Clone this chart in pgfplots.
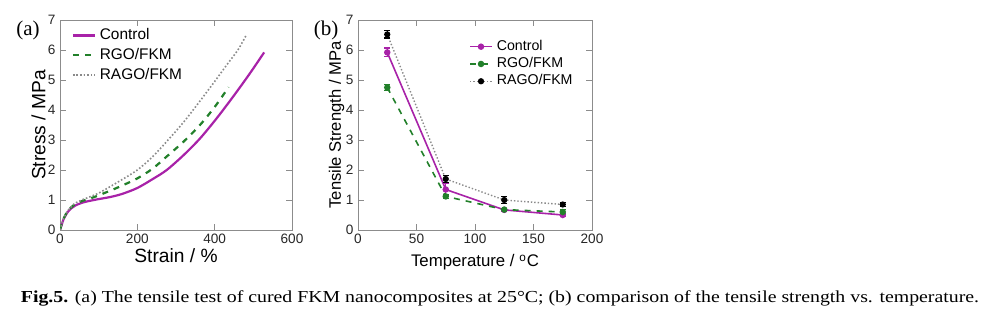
\documentclass[border=0pt]{standalone}
\usepackage{fontspec}
\setmainfont{Liberation Sans}
\newfontfamily\timesfont{Liberation Serif}
\usepackage{pgfplots}
\pgfplotsset{compat=1.18}
\definecolor{cCtrl}{HTML}{A822A8}
\definecolor{cRGO}{HTML}{22802A}
\definecolor{cRAGO}{HTML}{8A8A8A}
\definecolor{cAxis}{HTML}{8C8C8C}

\pgfplotsset{
  panel/.style={
    scale only axis,
    height=105pt,
    ymin=0, ymax=7,
    ytick={0,1,...,7},
    tick align=inside,
    axis line style={cAxis},
    tick style={cAxis},
    major tick length=3pt,
    ticklabel style={font=\fontsize{6.8}{8}\selectfont, text=black!85},
    xticklabel style={yshift=1.5pt},
    yticklabel style={xshift=1.2pt},
    /pgf/number format/assume math mode=true,
    legend cell align=left,
    legend style={draw=none, fill=none, inner sep=1pt},
    legend image code/.code={%
      \draw[mark repeat=2,mark phase=2] plot coordinates {(0pt,0pt)(5.5pt,0pt)(11pt,0pt)};},
  },
}

\begin{document}
\begin{tikzpicture}
\path (0,0) rectangle (497pt,160pt);

% panel (a)
\begin{axis}[panel,
  at={(30pt,45pt)}, anchor=south west,
  width=116pt,
  xmin=0, xmax=600, xtick={0,200,400,600},
  xlabel={Strain / \%},
  ylabel={Stress / MPa},
  xlabel style={font=\fontsize{9.6}{10}\selectfont, at={(axis description cs:0.5,-0.12)}, anchor=center},
  ylabel style={font=\fontsize{9.6}{10}\selectfont, at={(axis description cs:-0.093,0.5)}, anchor=center},
  legend style={at={(axis description cs:0.04,0.99)}, anchor=north west,
    font=\fontsize{7.7}{8}\selectfont, row sep=-1.2pt},
]
\addplot[cCtrl, line width=1.1pt, smooth] coordinates {
 (0,0) (5,0.2) (10,0.38) (20,0.6) (30,0.73) (40,0.82) (60,0.92) (80,0.98)
 (100,1.03) (130,1.1) (160,1.2) (200,1.4) (240,1.7) (276,2.0) (320,2.5)
 (362,3.05) (405,3.72) (448,4.45) (490,5.2) (528,5.92)};
\addlegendentry{Control}
\addplot[cRGO, line width=1.1pt, dashed, smooth] coordinates {
 (0,0) (5,0.22) (10,0.4) (20,0.63) (30,0.77) (40,0.87) (60,0.98) (80,1.06)
 (103,1.17) (150,1.42) (200,1.72) (240,2.05) (276,2.45) (320,2.95)
 (362,3.5) (400,4.1) (436,4.76)};
\addlegendentry{RGO/FKM}
\addplot[cRAGO, line width=0.8pt, densely dotted, smooth] coordinates {
 (0,0) (5,0.22) (10,0.4) (20,0.64) (30,0.79) (40,0.9) (60,1.02) (80,1.12)
 (103,1.25) (150,1.6) (200,2.0) (240,2.45) (276,2.95) (320,3.6) (362,4.3)
 (400,4.95) (431,5.5) (460,6.0) (481,6.48)};
\addlegendentry{RAGO/FKM}
\end{axis}

% panel (b)
\begin{axis}[panel,
  at={(179pt,45pt)}, anchor=south west,
  width=117pt,
  xmin=0, xmax=200, xtick={0,50,...,200},
  xlabel={Temperature / $^{\mathrm{o}}$C},
  ylabel={Tensile Strength / MPa},
  xlabel style={font=\fontsize{8.4}{9}\selectfont, at={(axis description cs:0.5,-0.155)}, anchor=center},
  ylabel style={font=\fontsize{8.3}{9}\selectfont, at={(axis description cs:-0.092,0.5)}, anchor=center},
  legend style={at={(axis description cs:0.465,0.935)}, anchor=north west,
    font=\fontsize{7.1}{8}\selectfont, row sep=-2pt},
  error bars/y dir=both, error bars/y explicit,
  error bars/error bar style={line width=0.7pt},
  error bars/error mark options={rotate=90, mark size=1.5pt, line width=0.6pt},
]
\addplot[cCtrl, line width=0.8pt, mark=*, mark size=1.2pt,
  error bars/error bar style={cCtrl, solid}] coordinates {
 (25,5.92) +- (0,0.15) (75,1.35) +- (0,0.2) (125,0.67) +- (0,0.04) (175,0.5) +- (0,0.06)};
\addlegendentry{Control}
\addplot[cRGO, line width=0.8pt, dashed, mark=*, mark size=1.2pt, mark options={solid},
  error bars/error bar style={cRGO, solid}] coordinates {
 (25,4.75) +- (0,0.09) (75,1.12) +- (0,0.06) (125,0.68) +- (0,0.04) (175,0.6) +- (0,0.08)};
\addlegendentry{RGO/FKM}
\addplot[cRAGO, line width=0.7pt, densely dotted, mark=*, mark size=1.2pt,
  mark options={solid, black}, error bars/error bar style={black, solid}] coordinates {
 (25,6.52) +- (0,0.12) (75,1.7) +- (0,0.12) (125,1.0) +- (0,0.12) (175,0.85) +- (0,0.07)};
\addlegendentry{RAGO/FKM}
\end{axis}

\node[font=\timesfont\fontsize{10.5}{12}\selectfont] at (14pt,145pt) {(a)};
\node[font=\timesfont\fontsize{10.5}{12}\selectfont] at (163pt,145pt) {(b)};
\node[font=\timesfont\fontsize{8.4}{10}\selectfont, anchor=center] at (250pt,11pt)
  {\scalebox{1.18}[1]{\textbf{Fig.5.} (a) The tensile test of cured FKM nanocomposites at 25\textdegree C; (b) comparison of the tensile strength vs. temperature.}};
\end{tikzpicture}
\end{document}
